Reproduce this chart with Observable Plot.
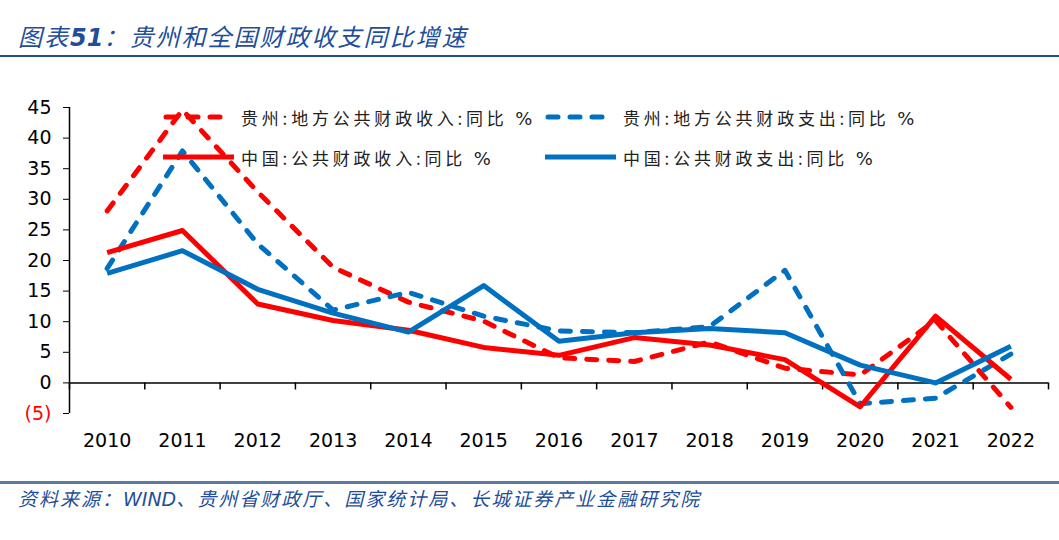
<!DOCTYPE html>
<html>
<head>
<meta charset="utf-8">
<script src="https://cdn.jsdelivr.net/npm/d3@7"></script>
<script src="https://cdn.jsdelivr.net/npm/@observablehq/plot@0.6"></script>
<style>
  body { margin: 0; background: #fff; }
  #wrap { position: relative; width: 1059px; height: 540px; overflow: hidden; font-family: "Noto Sans CJK SC", "DejaVu Sans", sans-serif; }
  #title { position: absolute; left: 18px; top: 18px; font-size: 24px; font-style: italic; color: #1f4e9a; letter-spacing: 2px; white-space: nowrap; }
  #title b { font-family: "DejaVu Sans", sans-serif; font-weight: bold; letter-spacing: 0; }
  #tline { position: absolute; left: 0; top: 55px; width: 1059px; height: 2px; background: #1f4e8c; }
  #chart { position: absolute; left: 0; top: 60px; }
  #fline { position: absolute; left: 0; top: 481px; width: 1059px; height: 3px; background: #5b7aa0; }
  #foot { position: absolute; left: 18px; top: 484px; font-size: 19px; font-style: italic; color: #1f4e9a; white-space: nowrap; letter-spacing: 2px; }
  #foot b { font-family: "DejaVu Sans", sans-serif; font-weight: normal; letter-spacing: 0; }
  .leg { position: absolute; display: flex; align-items: center; height: 24px; font-size: 17px; letter-spacing: 3.8px; color: #222; white-space: nowrap; }
  .leg svg { margin-right: 7px; }
  .pct { font-family: "DejaVu Sans", sans-serif; font-size: 18px; letter-spacing: 0; }
</style>
</head>
<body>
<div id="wrap">
  <div id="title">图表<b>51</b>：贵州和全国财政收支同比增速</div>
  <div id="tline"></div>
  <div id="chart"></div>
  <div id="legend"></div>
  <div id="fline"></div>
  <div id="foot">资料来源：<b>WIND</b>、贵州省财政厅、国家统计局、长城证券产业金融研究院</div>
</div>
<script>
const years = [2010, 2011, 2012, 2013, 2014, 2015, 2016, 2017, 2018, 2019, 2020, 2021, 2022];
const gzRevenue = [28.1, 44.6, 31.2, 18.9, 13.2, 10.1, 4.1, 3.5, 6.7, 2.4, 1.3, 10.2, -4.0];
const gzExpend  = [18.7, 37.9, 22.7, 11.9, 14.8, 10.9, 8.5, 8.2, 9.2, 18.4, -3.4, -2.5, 4.7];
const cnRevenue = [21.3, 24.9, 12.9, 10.2, 8.6, 5.8, 4.5, 7.4, 6.2, 3.8, -3.9, 10.9, 0.6];
const cnExpend  = [17.9, 21.6, 15.3, 11.4, 8.3, 15.9, 6.8, 8.2, 8.9, 8.2, 2.9, 0.0, 6.0];
const yTicks = [-5, 0, 5, 10, 15, 20, 25, 30, 35, 40, 45];
const seriesNames = ["贵州:地方公共财政收入:同比", "贵州:地方公共财政支出:同比", "中国:公共财政收入:同比", "中国:公共财政支出:同比"];
const unit = "%";

const RED = "#ff0000", BLUE = "#0070c0";
const DASH = "10,12";
const series = [
  {name: seriesNames[0], values: gzRevenue, color: RED, dash: DASH},
  {name: seriesNames[1], values: gzExpend, color: BLUE, dash: DASH},
  {name: seriesNames[2], values: cnRevenue, color: RED, dash: null},
  {name: seriesNames[3], values: cnExpend, color: BLUE, dash: null}
];

const bounds = [...years.map(y => y - 0.5), years[years.length - 1] + 0.5];
const lo = bounds[0], hi = bounds[bounds.length - 1];

const lineMarks = series.map(s => Plot.line(years.map((y, i) => ({year: y, v: s.values[i]})), {
  x: "year", y: "v", stroke: s.color, strokeWidth: 5,
  strokeDasharray: s.dash || undefined,
  strokeLinecap: s.dash ? "round" : "butt",
  strokeLinejoin: "round"
}));

const chart = Plot.plot({
  width: 1059, height: 398,
  marginLeft: 69, marginRight: 11, marginTop: 47, marginBottom: 45,
  x: {type: "linear", domain: [lo, hi], label: null},
  y: {domain: [yTicks[0], yTicks[yTicks.length - 1]], label: null},
  style: {fontFamily: "DejaVu Sans, Verdana, sans-serif", fontSize: "19px", color: "#000", background: "transparent"},
  marks: [
    Plot.axisY({ticks: yTicks, tickSize: 6, tickPadding: 12, fontSize: 19, label: null,
      tickFormat: d => d < 0 ? `(${-d})` : String(d),
      fill: d => d < 0 ? RED : "#000"}),
    Plot.axisX({ticks: years, tickSize: 0, tickPadding: 20, fontSize: 19, label: null, tickFormat: d => String(d)}),
    Plot.ruleX([lo], {y1: yTicks[0], y2: yTicks[yTicks.length - 1], stroke: "#000", strokeWidth: 1.5}),
    Plot.ruleY([0], {stroke: "#000", strokeWidth: 1.5}),
    Plot.ruleX(bounds, {x: d => d, y1: 0, y2: -1.15, stroke: "#000", strokeWidth: 1.5}),
    ...lineMarks
  ]
});
document.getElementById("chart").appendChild(chart);

// Legend (HTML overlay)
const legPos = [[163, 105], [545, 105], [163, 145], [545, 145]];
const legend = document.getElementById("legend");
series.forEach((s, i) => {
  const div = document.createElement("div");
  div.className = "leg";
  div.style.left = legPos[i][0] + "px";
  div.style.top = legPos[i][1] + "px";
  const sw = `<svg width="71" height="12"><line x1="${s.dash ? 3 : 0}" x2="${s.dash ? 68 : 71}" y1="6" y2="6" stroke="${s.color}" stroke-width="5" ${s.dash ? `stroke-dasharray="${DASH}" stroke-linecap="round"` : ""}/></svg>`;
  div.innerHTML = sw + `<span>${s.name} <span class="pct">${unit}</span></span>`;
  legend.appendChild(div);
});
</script>
</body>
</html>
